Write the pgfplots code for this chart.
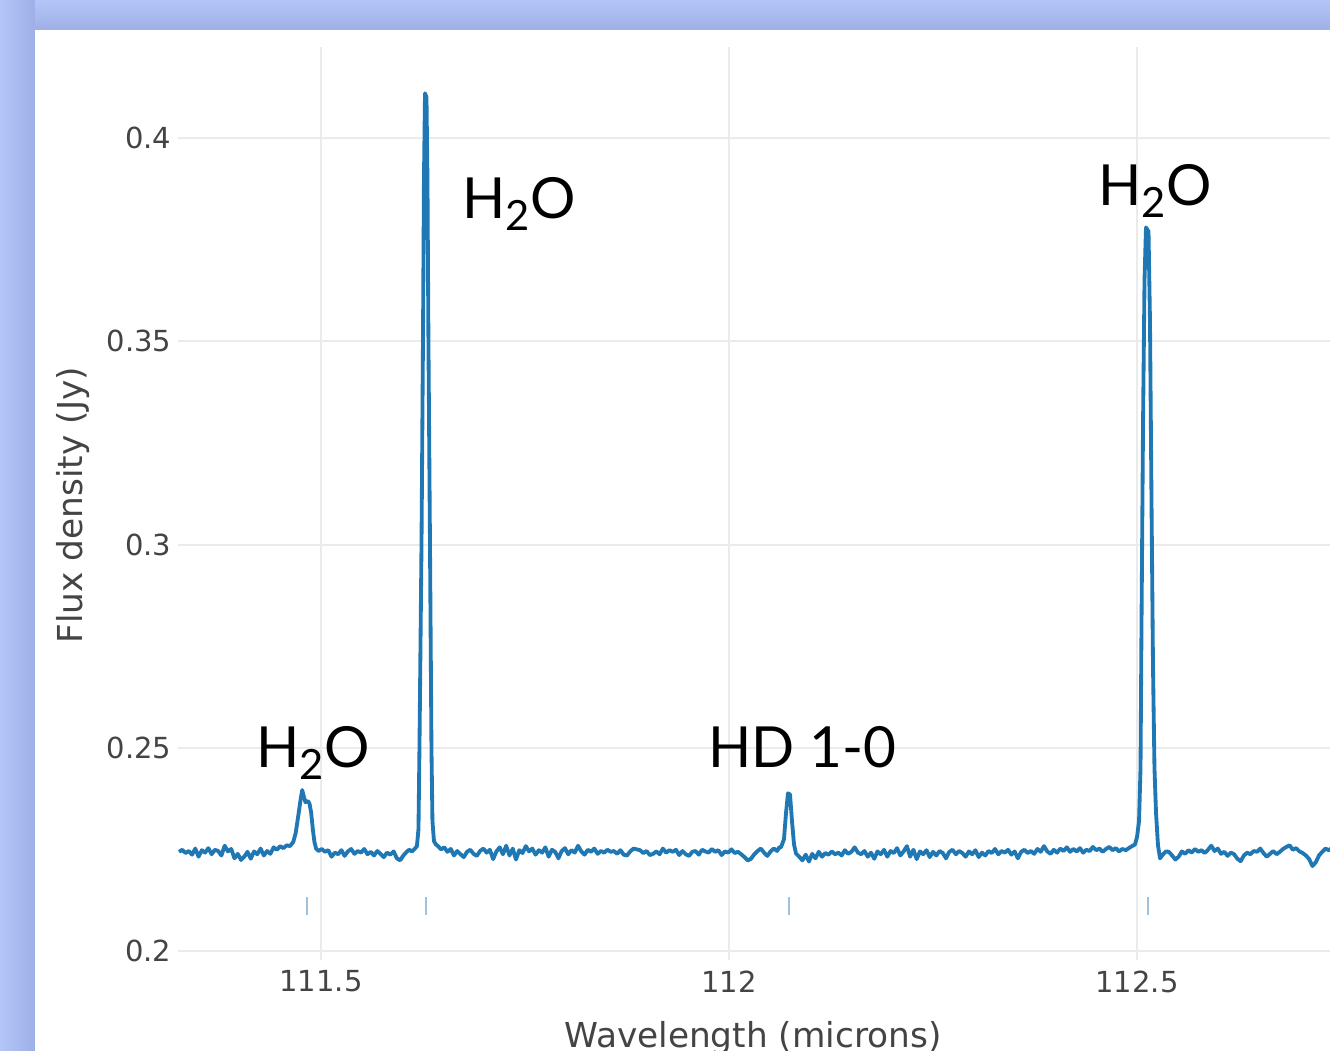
\documentclass[border=0pt]{standalone}
\usepackage{fontspec}
\setmainfont{DejaVu Sans}
\newfontfamily\annfont{Lato}
\usepackage{pgfplots}
\pgfplotsset{compat=1.18}

\definecolor{plotblue}{HTML}{1F77B4}
\definecolor{rugblue}{HTML}{9CC2E0}
\definecolor{gridgray}{HTML}{EBEBEB}
\definecolor{textgray}{HTML}{444444}
\definecolor{bgblue}{HTML}{AEBFF3}
\definecolor{bglight}{HTML}{B4C6F8}
\definecolor{bgdark}{HTML}{9DAFE6}

\begin{document}
\begin{tikzpicture}
\useasboundingbox (-53.4pt,-27.3pt) rectangle (345.6pt,288pt);
\clip (-53.4pt,-27.3pt) rectangle (345.6pt,288pt);
% slide background
\fill[bgblue] (-53.4pt,-27.3pt) rectangle (345.6pt,288pt);
\shade[left color=bglight, right color=bgdark] (-53.4pt,-27.3pt) rectangle (-42.9pt,288pt);
\shade[top color=bglight, bottom color=bgdark] (-42.9pt,279pt) rectangle (345.6pt,288pt);
\fill[white] (-42.9pt,-27.3pt) rectangle (345.6pt,279pt);

\begin{axis}[
    at={(0pt,0pt)}, anchor=south west,
    scale only axis,
    width=345.6pt, height=273.9pt,
    xmin=111.3248, xmax=112.7365,
    ymin=0.19779, ymax=0.42239,
    axis line style={draw=none},
    major tick length=0pt,
    xtick={111.5,112,112.5},
    xticklabels={111.5,112,112.5},
    ytick={0.2,0.25,0.3,0.35,0.4},
    yticklabels={0.2,0.25,0.3,0.35,0.4},
    grid=major,
    major grid style={gridgray, line width=0.6pt},
    xticklabel style={font=\fontsize{8.7}{10}\selectfont, text=textgray, inner sep=0pt, yshift=-3pt, anchor=north},
    yticklabel style={font=\fontsize{8.7}{10}\selectfont, text=textgray, inner sep=0pt, xshift=-1.8pt, anchor=east},
    xlabel={Wavelength (microns)},
    ylabel={Flux density (Jy)},
    xlabel style={font=\fontsize{10.3}{12}\selectfont, text=textgray, at={(axis description cs:0.499,-0.0953)}, anchor=base},
    ylabel style={font=\fontsize{10.3}{12}\selectfont, text=textgray, at={(axis description cs:-0.0911,0.498)}, anchor=center},
    clip=true,
]
\addplot[plotblue, line width=1.15pt, line join=round] table {
x y
111.326 0.2244
111.330 0.2249
111.334 0.2241
111.338 0.2246
111.342 0.2237
111.346 0.2252
111.350 0.2232
111.354 0.2248
111.358 0.2242
111.362 0.2253
111.366 0.2238
111.370 0.2249
111.374 0.2246
111.378 0.2235
111.382 0.2259
111.386 0.2245
111.390 0.2251
111.394 0.2228
111.398 0.2239
111.402 0.2224
111.406 0.2232
111.410 0.2244
111.414 0.2227
111.418 0.2245
111.422 0.2238
111.426 0.2252
111.430 0.2235
111.434 0.2246
111.438 0.2239
111.442 0.2255
111.446 0.2249
111.450 0.2258
111.454 0.2253
111.458 0.2260
111.462 0.2258
111.466 0.2268
111.469 0.2290
111.472 0.2330
111.475 0.2372
111.477 0.2396
111.479 0.2380
111.481 0.2366
111.484 0.2369
111.486 0.2362
111.488 0.2340
111.490 0.2300
111.492 0.2268
111.494 0.2252
111.497 0.2246
111.501 0.2251
111.505 0.2244
111.509 0.2248
111.513 0.2232
111.517 0.2242
111.521 0.2238
111.525 0.2248
111.529 0.2234
111.533 0.2245
111.537 0.2251
111.541 0.2239
111.545 0.2246
111.549 0.2242
111.553 0.2251
111.557 0.2238
111.561 0.2244
111.565 0.2235
111.569 0.2246
111.573 0.2239
111.577 0.2231
111.581 0.2242
111.585 0.2237
111.589 0.2245
111.593 0.2228
111.597 0.2223
111.601 0.2235
111.605 0.2244
111.608 0.2249
111.6115 0.2245
111.6152 0.2252
111.6176 0.2258
111.6195 0.2300
111.6207 0.2500
111.6232 0.3000
111.6250 0.3500
111.6262 0.3900
111.6275 0.4110
111.6293 0.4100
111.6305 0.3900
111.6317 0.3500
111.6336 0.3000
111.6354 0.2500
111.6366 0.2320
111.6385 0.2270
111.6409 0.2262
111.6434 0.2258
111.6471 0.2250
111.651 0.2255
111.655 0.2244
111.659 0.2251
111.663 0.2235
111.667 0.2246
111.671 0.2238
111.675 0.2231
111.679 0.2244
111.683 0.2249
111.687 0.2239
111.691 0.2234
111.695 0.2246
111.699 0.2252
111.703 0.2242
111.707 0.2249
111.711 0.2226
111.715 0.2245
111.719 0.2255
111.723 0.2238
111.727 0.2259
111.731 0.2235
111.735 0.2252
111.739 0.2225
111.743 0.2248
111.747 0.2241
111.751 0.2258
111.755 0.2245
111.759 0.2252
111.763 0.2237
111.767 0.2248
111.771 0.2242
111.775 0.2255
111.779 0.2232
111.783 0.2249
111.787 0.2244
111.791 0.2228
111.795 0.2246
111.799 0.2253
111.803 0.2238
111.807 0.2248
111.811 0.2242
111.815 0.2259
111.819 0.2245
111.823 0.2237
111.827 0.2249
111.831 0.2244
111.835 0.2252
111.839 0.2239
111.843 0.2246
111.847 0.2242
111.851 0.2249
111.855 0.2244
111.859 0.2246
111.863 0.2239
111.867 0.2248
111.871 0.2237
111.875 0.2235
111.879 0.2245
111.883 0.2252
111.887 0.2250
111.891 0.2248
111.895 0.2241
111.899 0.2246
111.903 0.2236
111.907 0.2239
111.911 0.2245
111.915 0.2238
111.919 0.2252
111.923 0.2242
111.927 0.2248
111.931 0.2244
111.935 0.2249
111.939 0.2236
111.943 0.2246
111.947 0.2238
111.951 0.2234
111.955 0.2244
111.959 0.2246
111.963 0.2237
111.967 0.2249
111.971 0.2245
111.975 0.2242
111.979 0.2251
111.983 0.2244
111.987 0.2248
111.991 0.2236
111.995 0.2245
111.999 0.2242
112.003 0.2250
112.007 0.2241
112.011 0.2244
112.015 0.2238
112.019 0.2231
112.023 0.2223
112.027 0.2227
112.031 0.2238
112.035 0.2246
112.039 0.2252
112.043 0.2242
112.047 0.2234
112.051 0.2245
112.055 0.2252
112.059 0.2246
112.0615 0.2255
112.0637 0.2255
112.0674 0.2275
112.0699 0.2340
112.0723 0.2388
112.0748 0.2385
112.0772 0.2320
112.0797 0.2262
112.0821 0.2240
112.086 0.2232
112.090 0.2223
112.094 0.2237
112.098 0.2220
112.102 0.2239
112.106 0.2228
112.110 0.2244
112.114 0.2232
112.118 0.2241
112.122 0.2237
112.126 0.2245
112.130 0.2238
112.134 0.2242
112.138 0.2235
112.142 0.2248
112.146 0.2239
112.150 0.2244
112.154 0.2255
112.158 0.2242
112.162 0.2238
112.166 0.2246
112.170 0.2232
112.174 0.2242
112.178 0.2227
112.182 0.2245
112.186 0.2238
112.190 0.2249
112.194 0.2232
112.198 0.2246
112.202 0.2241
112.206 0.2253
112.210 0.2235
112.214 0.2245
112.218 0.2258
112.222 0.2232
112.226 0.2249
112.230 0.2226
112.234 0.2245
112.238 0.2238
112.242 0.2248
112.246 0.2231
112.250 0.2244
112.254 0.2235
112.258 0.2246
112.262 0.2241
112.266 0.2228
112.270 0.2244
112.274 0.2249
112.278 0.2238
112.282 0.2246
112.286 0.2241
112.290 0.2232
112.294 0.2245
112.298 0.2238
112.302 0.2248
112.306 0.2231
112.310 0.2242
112.314 0.2235
112.318 0.2246
112.322 0.2241
112.326 0.2251
112.330 0.2238
112.334 0.2246
112.338 0.2242
112.342 0.2249
112.346 0.2237
112.350 0.2245
112.354 0.2228
112.358 0.2244
112.362 0.2249
112.366 0.2241
112.370 0.2246
112.374 0.2239
112.378 0.2251
112.382 0.2244
112.386 0.2258
112.390 0.2245
112.394 0.2239
112.398 0.2249
112.402 0.2242
112.406 0.2252
112.410 0.2246
112.414 0.2255
112.418 0.2244
112.422 0.2251
112.426 0.2245
112.430 0.2253
112.434 0.2242
112.438 0.2249
112.442 0.2246
112.446 0.2256
112.450 0.2248
112.454 0.2252
112.458 0.2244
112.462 0.2251
112.466 0.2256
112.470 0.2248
112.474 0.2253
112.478 0.2245
112.482 0.2251
112.4865 0.2248
112.4890 0.2252
112.4939 0.2258
112.4975 0.2262
112.5000 0.2280
112.5025 0.2320
112.5043 0.2450
112.5055 0.2800
112.5074 0.3300
112.5092 0.3650
112.5110 0.3780
112.5141 0.3770
112.5159 0.3550
112.5178 0.3100
112.5196 0.2700
112.5214 0.2450
112.5233 0.2340
112.5257 0.2260
112.5282 0.2228
112.5319 0.2238
112.5355 0.2245
112.539 0.2244
112.543 0.2235
112.547 0.2225
112.551 0.2232
112.555 0.2245
112.559 0.2239
112.563 0.2248
112.567 0.2242
112.571 0.2251
112.575 0.2244
112.579 0.2248
112.583 0.2241
112.587 0.2249
112.591 0.2259
112.595 0.2246
112.599 0.2252
112.603 0.2239
112.607 0.2244
112.611 0.2234
112.615 0.2242
112.619 0.2238
112.623 0.2227
112.627 0.2221
112.631 0.2235
112.635 0.2242
112.639 0.2238
112.643 0.2246
112.647 0.2244
112.651 0.2252
112.655 0.2241
112.659 0.2232
112.663 0.2239
112.667 0.2246
112.671 0.2238
112.675 0.2244
112.679 0.2251
112.683 0.2256
112.687 0.2260
112.691 0.2249
112.695 0.2253
112.699 0.2245
112.703 0.2241
112.707 0.2235
112.711 0.2226
112.715 0.2209
112.719 0.2218
112.723 0.2235
112.727 0.2244
112.731 0.2252
112.735 0.2248
112.739 0.2253
};
% line position markers
\addplot[only marks, mark=|, mark size=2.7pt, color=rugblue, mark options={line width=0.6pt}] coordinates {
(111.4828,0.2111) (111.6287,0.2111) (112.0735,0.2111) (112.5135,0.2111)
};
\node[anchor=base west, inner sep=0pt, font=\annfont\fontsize{17}{18}\selectfont] at (axis cs:111.6728,0.3803) {H\raisebox{-3.6pt}{\fontsize{12.5}{12}\selectfont 2}O};
\node[anchor=base west, inner sep=0pt, font=\annfont\fontsize{17}{18}\selectfont] at (axis cs:112.4522,0.3835) {H\raisebox{-3.6pt}{\fontsize{12.5}{12}\selectfont 2}O};
\node[anchor=base west, inner sep=0pt, font=\annfont\fontsize{17}{18}\selectfont] at (axis cs:111.4203,0.2451) {H\raisebox{-3.6pt}{\fontsize{12.5}{12}\selectfont 2}O};
\node[anchor=base west, inner sep=0pt, font=\annfont\fontsize{17}{18}\selectfont] at (axis cs:111.9743,0.2451) {HD 1-0};
\end{axis}
\end{tikzpicture}
\end{document}
